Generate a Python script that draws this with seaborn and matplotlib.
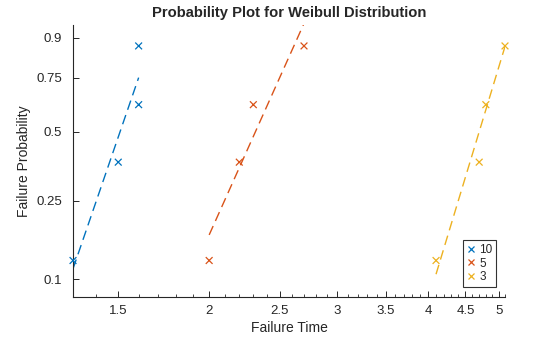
import numpy as np
import pandas as pd
import matplotlib
matplotlib.use("Agg")
import matplotlib.pyplot as plt
import seaborn as sns
from matplotlib.ticker import FixedLocator, FixedFormatter, NullFormatter
from matplotlib.lines import Line2D

# ---- data ----
series_names = ["10", "5", "3"]
times_10 = [1.3, 1.5, 1.6, 1.6]
times_5 = [2.0, 2.2, 2.3, 2.7]
times_3 = [4.1, 4.7, 4.8, 5.1]
plot_positions = [0.125, 0.375, 0.625, 0.875]
colors = ["#0072BD", "#D95319", "#EDB120"]
x_ticks = [1.5, 2, 2.5, 3, 3.5, 4, 4.5, 5]
x_tick_labels = ["1.5", "2", "2.5", "3", "3.5", "4", "4.5", "5"]
x_minor_ticks = [1.4, 1.6, 1.7, 1.8, 1.9, 2.1, 2.2, 2.3, 2.4, 2.6, 2.7, 2.8, 2.9,
                 3.1, 3.2, 3.3, 3.4, 3.6, 3.7, 3.8, 3.9, 4.1, 4.2, 4.3, 4.4,
                 4.6, 4.7, 4.8, 4.9, 5.1]
y_ticks = [0.1, 0.25, 0.5, 0.75, 0.9]
y_tick_labels = ["0.1", "0.25", "0.5", "0.75", "0.9"]
x_limits = (1.3, 5.1)
y_limits = (0.0803, 0.934)

sns.set_theme(style="white")
plt.rcParams["font.family"] = ["Liberation Sans", "DejaVu Sans"]

def fwd(p):
    p = np.clip(np.asarray(p, dtype=float), 1e-9, 1 - 1e-9)
    return np.log(-np.log(1 - p))

def inv(v):
    return 1 - np.exp(-np.exp(np.asarray(v, dtype=float)))

all_times = [times_10, times_5, times_3]
points = pd.DataFrame({
    "time": sum(all_times, []),
    "p": plot_positions * 3,
    "series": sum([[n] * len(t) for n, t in zip(series_names, all_times)], []),
})

# reference lines through 1st and 3rd quartiles (Weibull probability paper)
line_rows = []
for name, t in zip(series_names, all_times):
    t = np.asarray(t)
    q1 = np.percentile(t, 25, method="hazen")
    q3 = np.percentile(t, 75, method="hazen")
    v1, v3 = fwd(0.25), fwd(0.75)
    slope = (v3 - v1) / (np.log(q3) - np.log(q1))
    for xe in (t.min(), t.max()):
        ve = v1 + slope * (np.log(xe) - np.log(q1))
        line_rows.append({"time": xe, "p": float(inv(ve)), "series": name})
lines = pd.DataFrame(line_rows)

fig = plt.figure(figsize=(5.6, 3.37), dpi=100)
ax = fig.add_axes([0.1304, 0.1187, 0.7714, 0.8071])
ax.set_xscale("log")
ax.set_yscale("function", functions=(fwd, inv))

sns.lineplot(data=lines, x="time", y="p", hue="series", hue_order=series_names,
             palette=colors, estimator=None, sort=False, legend=False, ax=ax,
             linewidth=1.0, dashes=False)
for ln in ax.get_lines():
    ln.set_dashes((7, 4))
sns.scatterplot(data=points, x="time", y="p", hue="series", hue_order=series_names,
                palette=colors, marker="x", s=24, linewidth=0.9, legend=False, ax=ax,
                zorder=3)
for coll in ax.collections:
    coll.set_clip_on(False)

ax.set_xlim(*x_limits)
ax.set_ylim(*y_limits)
ax.xaxis.set_major_locator(FixedLocator(x_ticks))
ax.xaxis.set_major_formatter(FixedFormatter(x_tick_labels))
ax.xaxis.set_minor_locator(FixedLocator(x_minor_ticks))
ax.xaxis.set_minor_formatter(NullFormatter())
ax.yaxis.set_major_locator(FixedLocator(y_ticks))
ax.yaxis.set_major_formatter(FixedFormatter(y_tick_labels))
ax.yaxis.set_minor_locator(FixedLocator([]))

axcol = "#262626"
for s in ["top", "right"]:
    ax.spines[s].set_visible(False)
for s in ["left", "bottom"]:
    ax.spines[s].set_color(axcol)
    ax.spines[s].set_linewidth(0.8)
ax.tick_params(axis="both", which="both", bottom=True, left=True, top=False, right=False)
ax.tick_params(axis="both", which="major", direction="in", length=4, width=0.7,
               colors=axcol, labelsize=9.5, pad=8)
ax.tick_params(axis="x", which="minor", direction="in", length=2.2, width=0.6,
               colors=axcol)
ax.tick_params(axis="x", which="major", pad=6)

ax.set_xlabel("Failure Time", fontsize=10, color=axcol, labelpad=3)
ax.set_ylabel("Failure Probability", fontsize=10, color=axcol, labelpad=4)
ax.set_title("Probability Plot for Weibull Distribution", fontsize=10.6,
             fontweight="bold", color=axcol, pad=6)

handles = [Line2D([], [], linestyle="none", marker="x", color=c, markersize=4.5,
                  markeredgewidth=0.9) for c in colors]
leg = ax.legend(handles, series_names, loc="lower right",
                bbox_to_anchor=(0.979, 0.037), fontsize=8.5, frameon=True,
                fancybox=False, edgecolor="black", handlelength=0.8,
                handletextpad=0.3, labelspacing=0.15, borderpad=0.3,
                borderaxespad=0)
leg.get_frame().set_linewidth(0.8)

fig.savefig("out.png", dpi=100)
